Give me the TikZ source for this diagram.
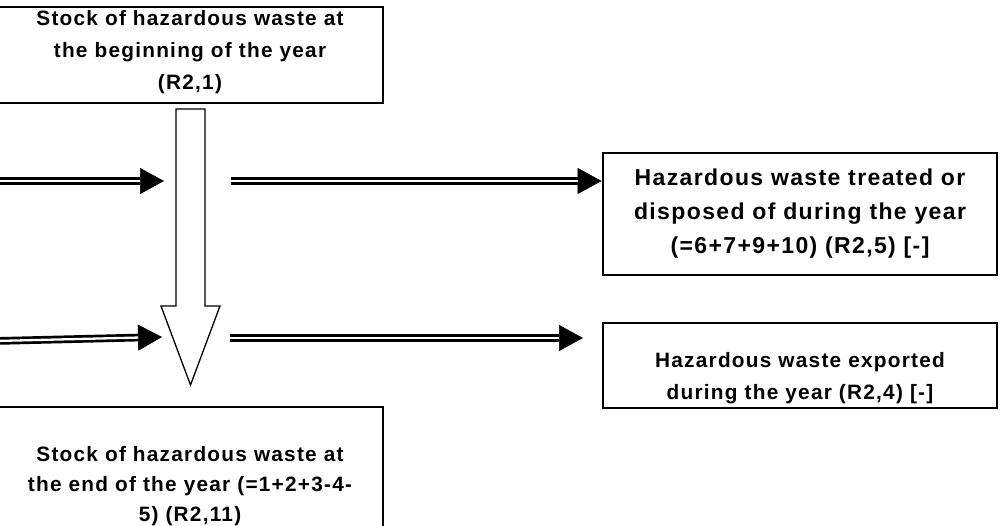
\documentclass[tikz,border=0pt]{standalone}
\usepackage{fontspec}
\setmainfont[LetterSpace=6]{Liberation Sans}
\usetikzlibrary{arrows.meta}

\newcommand{\liftlines}[2]{\raisebox{#1}[\height][\depth]{\begin{tabular}{@{}c@{}}#2\end{tabular}}}

\tikzset{
	box/.style={draw, line width=2.8pt, fill=white, inner sep=0pt, align=center, font=\bfseries\fontsize{20.8}{32}\selectfont},
	flow/.style={line width=0.6pt, -{Triangle[length=24pt,width=26pt]}, postaction={draw, -, double, line width=2.7pt, double distance=2.3pt, shorten >=24pt}},
	hollow/.style={draw, line width=1.3pt, fill=white, line join=miter}
}

\begin{document}
\begin{tikzpicture}[x=1pt, y=-1pt]
			\useasboundingbox (0, 0) rectangle (1000, 526);

			\draw (190, 55) 	node[box, minimum width=386pt, minimum height=96pt] 	(start) 	{\liftlines{4pt}{Stock of hazardous waste at\\the beginning of the year\\(R2,1)}};
			\draw (190, 486) 	node[box, minimum width=386pt, minimum height=158pt, font=\bfseries\fontsize{20.8}{30}\selectfont] 	(finish) 	{Stock of hazardous waste at\\the end of the year (=1+2+3-4-\\5) (R2,11)};
			\draw (800, 214) 	node[box, minimum width=394pt, minimum height=122pt, font=\bfseries\fontsize{23}{34}\selectfont] 	(treated) 	{Hazardous waste treated or\\disposed of during the year\\(=6+7+9+10) (R2,5) [-]};
			\draw (800, 365.5) 	node[box, minimum width=394pt, minimum height=85pt] 	(exported) 	{\liftlines{-12pt}{Hazardous waste exported\\during the year (R2,4) [-]}};

			\coordinate (in1) 	at (-5, 181);
			\coordinate (in1_a) 	at (164, 181);
			\coordinate (out1) 	at (231, 181);
			\coordinate (in2) 	at (-5, 341);
			\coordinate (in2_a) 	at (162, 337);
			\coordinate (out2) 	at (230, 338);
			\coordinate (out2_a) 	at (583, 338);

			\draw[hollow] (176, 109) -- (205, 109) -- (205, 306) -- (220, 306) -- (190.5, 385) -- (161, 306) -- (176, 306) -- cycle;

			\draw[flow] (in1) -- (in1_a);
			\draw[flow] (out1) -- (treated.west |- out1);
			\draw[flow] (in2) -- (in2_a);
			\draw[flow] (out2) -- (out2_a);
		\end{tikzpicture}
\end{document}
